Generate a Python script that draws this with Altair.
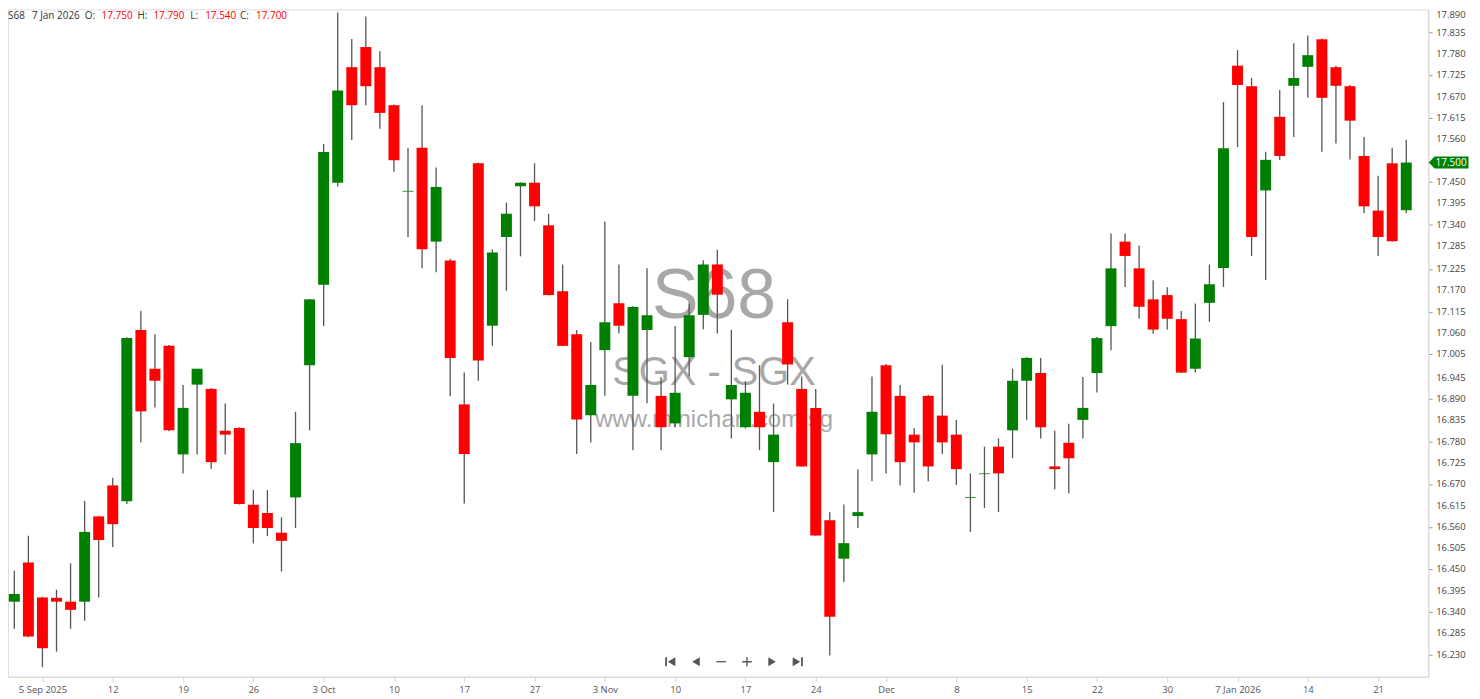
import altair as alt
import pandas as pd

# ---- OHLC data (trading days 3 Sep 2025 .. 23 Jan 2026) ----
opens = [16.367, 16.468, 16.378, 16.377, 16.367, 16.367, 16.587, 16.667, 16.626, 17.068,
         16.968, 17.027, 16.747, 16.927, 16.916, 16.808, 16.815, 16.617, 16.596, 16.545,
         16.636, 16.977, 17.185, 17.448, 17.746, 17.798, 17.746, 17.648, 17.425, 17.538,
         17.296, 17.247, 16.876, 17.498, 17.079, 17.308, 17.439, 17.448, 17.338, 17.168,
         17.057, 16.848, 17.016, 17.137, 16.898, 17.068, 16.898, 16.827, 16.998, 17.107,
         17.237, 16.889, 16.817, 16.857, 16.727, 17.088, 16.916, 16.867, 16.577, 16.478,
         16.588, 16.747, 16.977, 16.898, 16.798, 16.898, 16.847, 16.798, 16.635, 16.696,
         16.767, 16.809, 16.937, 16.957, 16.716, 16.777, 16.836, 16.957, 17.078, 17.296,
         17.227, 17.147, 17.158, 17.096, 16.968, 17.138, 17.228, 17.750, 17.697, 17.428,
         17.618, 17.698, 17.747, 17.818, 17.746, 17.697, 17.517, 17.376, 17.498, 17.377]
highs = [16.447, 16.537, 16.380, 16.398, 16.466, 16.627, 16.589, 16.687, 17.049, 17.117,
         17.057, 17.029, 16.926, 16.968, 16.918, 16.878, 16.817, 16.655, 16.655, 16.585,
         16.857, 17.148, 17.548, 17.887, 17.819, 17.877, 17.787, 17.650, 17.538, 17.648,
         17.487, 17.252, 16.958, 17.500, 17.276, 17.397, 17.449, 17.498, 17.368, 17.237,
         17.068, 17.037, 17.348, 17.237, 17.130, 17.227, 16.946, 17.078, 17.136, 17.248,
         17.275, 17.068, 16.936, 16.977, 16.878, 17.147, 16.948, 16.916, 16.598, 16.618,
         16.708, 16.948, 16.980, 16.926, 16.815, 16.900, 16.978, 16.836, 16.698, 16.767,
         16.788, 16.968, 16.998, 16.996, 16.808, 16.826, 16.947, 17.050, 17.317, 17.317,
         17.286, 17.196, 17.178, 17.117, 17.136, 17.237, 17.656, 17.790, 17.718, 17.528,
         17.687, 17.808, 17.828, 17.820, 17.750, 17.700, 17.566, 17.466, 17.538, 17.559]
lows = [16.297, 16.275, 16.198, 16.238, 16.297, 16.318, 16.378, 16.508, 16.619, 16.778,
        16.868, 16.807, 16.698, 16.747, 16.709, 16.747, 16.618, 16.517, 16.536, 16.445,
        16.557, 16.809, 17.078, 17.438, 17.558, 17.648, 17.587, 17.476, 17.307, 17.227,
        17.217, 16.897, 16.620, 16.937, 17.027, 17.169, 17.258, 17.349, 17.157, 17.026,
        16.748, 16.778, 16.898, 17.059, 16.758, 16.879, 16.758, 16.817, 16.948, 17.070,
        17.059, 16.788, 16.814, 16.758, 16.598, 16.927, 16.715, 16.537, 16.228, 16.418,
        16.557, 16.678, 16.698, 16.667, 16.648, 16.678, 16.748, 16.668, 16.547, 16.609,
        16.598, 16.737, 16.836, 16.788, 16.657, 16.647, 16.788, 16.907, 17.016, 17.179,
        17.097, 17.058, 17.069, 16.957, 16.958, 17.089, 17.179, 17.540, 17.259, 17.197,
        17.507, 17.566, 17.667, 17.528, 17.549, 17.508, 17.369, 17.259, 17.296, 17.369]
closes = [16.387, 16.277, 16.247, 16.367, 16.346, 16.547, 16.526, 16.567, 17.047, 16.858,
          16.937, 16.809, 16.867, 16.968, 16.727, 16.798, 16.619, 16.557, 16.557, 16.524,
          16.776, 17.147, 17.527, 17.686, 17.648, 17.697, 17.628, 17.506, 17.427, 17.276,
          17.437, 16.996, 16.748, 16.989, 17.268, 17.368, 17.448, 17.387, 17.158, 17.027,
          16.837, 16.926, 17.088, 17.079, 17.127, 17.106, 16.817, 16.906, 17.106, 17.237,
          17.159, 16.926, 16.906, 16.817, 16.798, 16.979, 16.716, 16.538, 16.328, 16.518,
          16.598, 16.857, 16.799, 16.727, 16.778, 16.716, 16.778, 16.709, 16.637, 16.698,
          16.698, 16.937, 16.996, 16.817, 16.709, 16.737, 16.867, 17.047, 17.227, 17.259,
          17.128, 17.069, 17.097, 16.958, 17.046, 17.186, 17.537, 17.700, 17.308, 17.507,
          17.517, 17.718, 17.777, 17.667, 17.698, 17.608, 17.387, 17.308, 17.297, 17.500]

# x-axis tick labels (bar index -> label)
tick_idx = [2, 7, 12, 17, 22, 27, 32, 37, 42, 47, 52, 57, 62, 67, 72, 77, 82, 87, 92, 97]
tick_labels = ["5 Sep 2025", "12", "19", "26", "3 Oct", "10", "17", "27", "3 Nov", "10",
               "17", "24", "Dec", "8", "15", "22", "30", "7 Jan 2026", "14", "21"]

# y-axis tick labels
y_ticks = [17.890, 17.835, 17.780, 17.725, 17.670, 17.615, 17.560, 17.450, 17.395, 17.340,
           17.285, 17.225, 17.170, 17.115, 17.060, 17.005, 16.945, 16.890, 16.835, 16.780,
           16.725, 16.670, 16.615, 16.560, 16.505, 16.450, 16.395, 16.340, 16.285, 16.230]

symbol = "S68"
header_date = "7 Jan 2026"
header_keys = ["O:", "H:", "L:", "C:"]
header_vals = ["17.750", "17.790", "17.540", "17.700"]
last_price = 17.500
wm_lines = ["S68", "SGX - SGX", "www.minichart.com.sg"]

W, H = 1426, 670
FONT = "Open Sans"

df = pd.DataFrame({
    "i": list(range(len(opens))),
    "open": opens, "high": highs, "low": lows, "close": closes,
})
df["dir"] = ["up" if c >= o else "down" for o, c in zip(opens, closes)]

xscale = alt.Scale(domain=[-0.45, 100.56], nice=False, zero=False, padding=0)
yscale = alt.Scale(domain=[16.1735, 17.8951], nice=False, zero=False, padding=0)

labels_js = "[" + ",".join("'" + s + "'" for s in tick_labels) + "]"
idx_js = "[" + ",".join(str(v) for v in tick_idx) + "]"

xaxis = alt.Axis(values=tick_idx, labelExpr=f"{labels_js}[indexof({idx_js}, datum.value)]",
                 title=None, grid=False, tickSize=5, tickColor="#d0d0d0", tickWidth=1,
                 domainColor="#dcdcdc", domainWidth=1.5, labelColor="#555555",
                 labelFont=FONT, labelFontSize=9.5, labelPadding=3, labelFlush=False,
                 labelOverlap=False)
yaxis = alt.Axis(orient="right", values=y_ticks, labels=False, title=None, grid=False,
                 tickSize=4, tickColor="#999999", tickWidth=1, domainColor="#dcdcdc",
                 domainWidth=1.5)

base = alt.Chart(df)

# watermark
wm_sizes = [70, 40, 24]
wm_y = [310, 377, 419]
wm_layers = []
for k, line in enumerate(wm_lines):
    wm_layers.append(
        alt.Chart(pd.DataFrame({"t": [line]})).mark_text(
            font="Liberation Sans", fontSize=wm_sizes[k], color="#9a9a9a", opacity=0.85,
            align="center", baseline="alphabetic"
        ).encode(text="t:N", x=alt.value(709), y=alt.value(wm_y[k]))
    )

wicks = base.mark_rule(color="#555555", strokeWidth=1.3).encode(
    x=alt.X("i:Q", scale=xscale, axis=xaxis),
    y=alt.Y("low:Q", scale=yscale, axis=yaxis),
    y2="high:Q",
)
bodies = base.mark_bar(size=11).encode(
    x=alt.X("i:Q", scale=xscale),
    y=alt.Y("open:Q", scale=yscale),
    y2="close:Q",
    color=alt.Color("dir:N", scale=alt.Scale(domain=["up", "down"], range=["#008000", "#ff0000"]),
                    legend=None),
)

# y-axis labels drawn as text (all of them); the top one is nudged inside the view
ylab_df = pd.DataFrame({"v": y_ticks[1:], "t": [f"{v:.3f}" for v in y_ticks[1:]]})
ylabels = alt.Chart(ylab_df).mark_text(
    font=FONT, fontSize=9.5, color="#444444", align="left", baseline="middle"
).encode(x=alt.value(W + 8), y=alt.Y("v:Q", scale=yscale), text="t:N")
ytop_df = pd.DataFrame({"v": y_ticks[:1], "t": [f"{v:.3f}" for v in y_ticks[:1]]})
ylabel_top = alt.Chart(ytop_df).mark_text(
    font=FONT, fontSize=9.5, color="#444444", align="left", baseline="top", dy=-1.5
).encode(x=alt.value(W + 8), y=alt.Y("v:Q", scale=yscale), text="t:N")

# header
hdr_text = [symbol, header_date] + [v for pair in zip(header_keys, header_vals) for v in pair]
hdr_color = ["#333333", "#333333"] + [c for _ in header_keys for c in ("#333333", "#ff0000")]
hdr_x = [0, 24, 77, 94, 130, 146, 183, 198, 233, 249]
hdr_layers = []
for t, c, xx in zip(hdr_text, hdr_color, hdr_x):
    hdr_layers.append(
        alt.Chart(pd.DataFrame({"t": [t]})).mark_text(
            font=FONT, fontSize=10, color=c, align="left", baseline="middle"
        ).encode(text="t:N", x=alt.value(xx), y=alt.value(7))
    )

# last price badge
badge_df = pd.DataFrame({"p": [last_price], "t": [f"{last_price:.3f}"]})
badge = alt.Chart(badge_df).mark_point(
    shape="M-1,0 L-0.7,-0.3 L1,-0.3 L1,0.3 L-0.7,0.3 Z", size=1600, filled=True,
    color="#008000", opacity=1
).encode(x=alt.value(1446.5), y=alt.Y("p:Q", scale=yscale))
badge_txt = alt.Chart(badge_df).mark_text(
    font=FONT, fontSize=10, color="white", align="center", baseline="middle"
).encode(x=alt.value(1449), y=alt.Y("p:Q", scale=yscale), text="t:N")

# navigation icons
icon_paths = [
    "M-0.85,-0.75 L-0.55,-0.75 L-0.55,0.75 L-0.85,0.75 Z M0.85,-0.75 L-0.4,0 L0.85,0.75 Z",
    "M0.6,-0.75 L-0.65,0 L0.6,0.75 Z",
    "M-0.8,-0.11 L0.8,-0.11 L0.8,0.11 L-0.8,0.11 Z",
    "M-0.8,-0.11 L-0.11,-0.11 L-0.11,-0.8 L0.11,-0.8 L0.11,-0.11 L0.8,-0.11 L0.8,0.11 L0.11,0.11 L0.11,0.8 L-0.11,0.8 L-0.11,0.11 L-0.8,0.11 Z",
    "M-0.6,-0.75 L0.65,0 L-0.6,0.75 Z",
    "M0.85,-0.75 L0.55,-0.75 L0.55,0.75 L0.85,0.75 Z M-0.85,-0.75 L0.4,0 L-0.85,0.75 Z",
]
icon_x = [665, 691, 716, 742, 767, 793]
icon_layers = []
for pth, xx in zip(icon_paths, icon_x):
    icon_layers.append(
        alt.Chart(pd.DataFrame({"a": [0]})).mark_point(
            shape=pth, size=144, filled=True, color="#555555", opacity=1
        ).encode(x=alt.value(xx), y=alt.value(655))
    )

chart = alt.layer(*wm_layers, wicks, bodies, ylabels, ylabel_top, *hdr_layers, badge, badge_txt,
                  *icon_layers).properties(
    width=W, height=H,
    autosize=alt.AutoSizeParams(type="none"),
    padding={"left": 0, "top": 0, "right": 44, "bottom": 20},
).configure_view(stroke=None).configure(background="white").configure_axis(
    labelOverlap=False
).configure_scale(continuousPadding=0)

chart.save("out.html", embed_options={"renderer": "svg", "actions": False})
